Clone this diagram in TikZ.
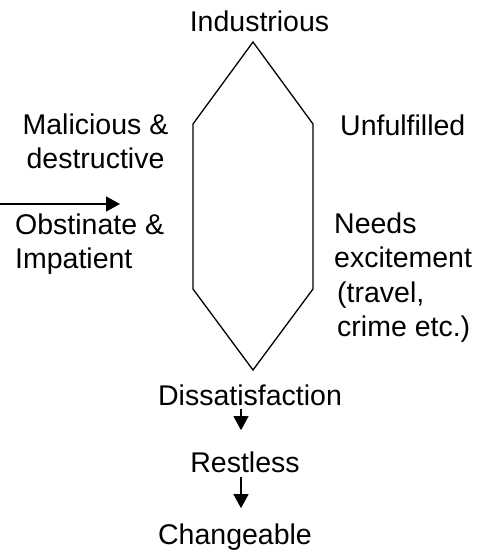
\documentclass[tikz,border=0pt]{standalone}
\usepackage{fontspec}
\setmainfont{Liberation Sans}
\usetikzlibrary{arrows.meta}

\begin{document}
\begin{tikzpicture}[x=1pt,y=-1pt,
		lbl/.style={inner sep=0,font=\fontsize{28.5}{34.5}\selectfont},
		arr/.style={line width=1.3pt,-{Triangle[length=14pt,width=15pt]}}]
		\useasboundingbox (0,0) rectangle (491,551);
		\path
		(253,42) coordinate (T)
		(313,124) coordinate (UR)
		(313,289) coordinate (LR)
		(253,370) coordinate (B)
		(193,289) coordinate (LL)
		(193,124) coordinate (UL)
		(0,204) coordinate (in)
		(120,204) coordinate (inend)
		(241,0) coordinate (axis);
		\draw[line width=1.3pt] (T)--(UR)--(LR)--(B)--(LL)--(UL)--cycle;
		% multi-line labels: base is the last line
		\node[lbl,anchor=base] (indu) at (259.5,32) {Industrious};
		\node[lbl,anchor=base,align=center] (mali) at (95.5,168.5) {Malicious \&\\destructive};
		\node[lbl,anchor=base west,align=left] (obst) at (15,268.5) {Obstinate \&\\Impatient};
		\node[lbl,anchor=base west] (unfu) at (340,135) {Unfulfilled};
		\node[lbl,anchor=base west,align=left] (need) at (334,336.5) {Needs\\excitement\\\hspace{3pt}(travel,\\\hspace{3pt}crime etc.)};
		\node[lbl,anchor=base] (diss) at (250,405) {Dissatisfaction};
		\node[lbl,anchor=base] (rest) at (245,472) {Restless};
		\node[lbl,anchor=base] (chan) at (235,544) {Changeable};
		\draw[arr] (in) -- (inend);
		\draw[arr,shorten <=4pt,shorten >=21pt] (diss.south -| axis) -- (rest.north -| axis);
		\draw[arr,shorten <=5pt,shorten >=15pt] (rest.south -| axis) -- (chan.north -| axis);
	\end{tikzpicture}
\end{document}
